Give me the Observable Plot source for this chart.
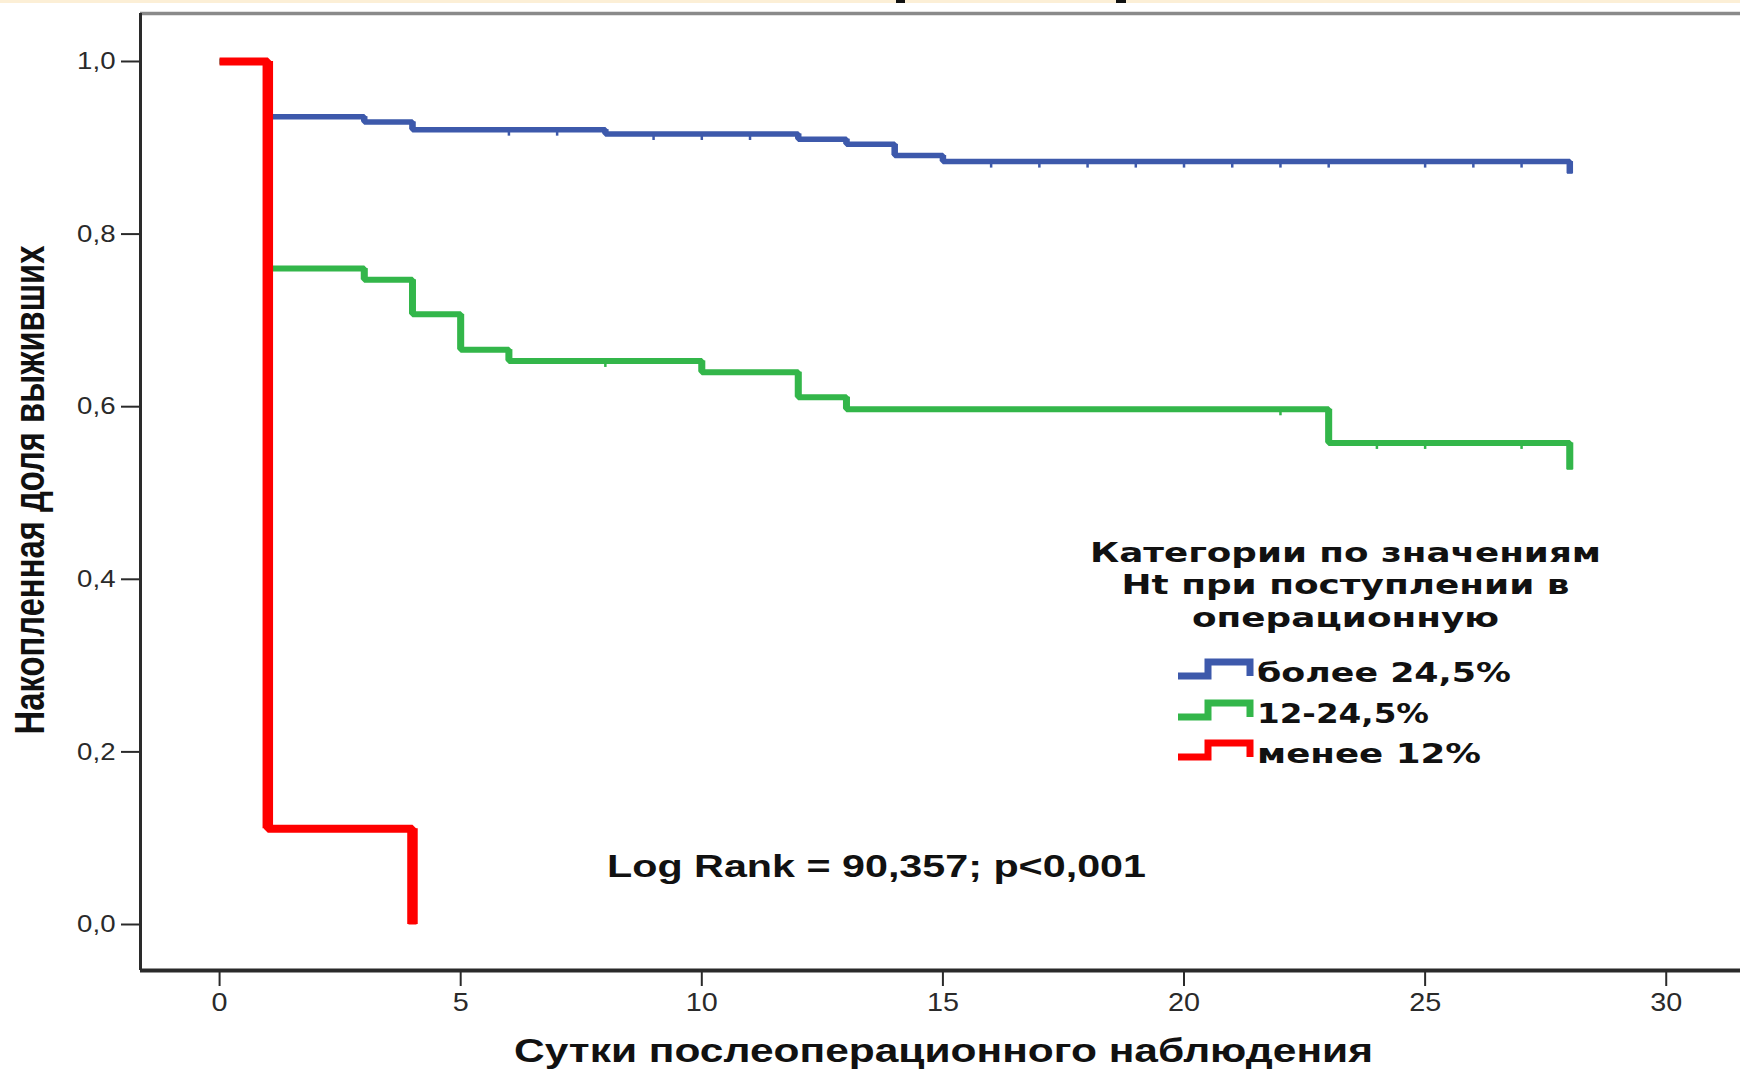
<!DOCTYPE html>
<html>
<head>
<meta charset="utf-8">
<script src="https://cdn.jsdelivr.net/npm/d3@7"></script>
<script src="https://cdn.jsdelivr.net/npm/@observablehq/plot@0.6"></script>
<style>
  html, body { margin: 0; padding: 0; background: #ffffff; }
  #chart { width: 1740px; height: 1070px; overflow: hidden; }
</style>
</head>
<body>
<div id="chart"></div>
<script>
// Kaplan–Meier survival by Ht category on admission to the operating room
const groupNames = ["более 24,5%", "12-24,5%", "менее 12%"];
const groupColors = ["#3d59ab", "#33b64a", "#ff0000"];
const groupWidths = [5.5, 6, 8];
const dropWidths = [6.5, 7, 10.5];

// step points: day of event, cumulative survival after it
const highDays = [0, 1, 3, 4, 8, 12, 13, 14, 15, 28];
const highSurv = [1, 0.936, 0.930, 0.921, 0.916, 0.910, 0.904, 0.891, 0.884, 0.870];
const midDays  = [0, 1, 3, 4, 5, 6, 10, 12, 13, 23, 28];
const midSurv  = [1, 0.760, 0.747, 0.707, 0.666, 0.653, 0.640, 0.611, 0.597, 0.558, 0.527];
const lowDays  = [0, 1, 4];
const lowSurv  = [1, 0.111, 0];

// censored observations
const highCensorDays = [6, 7, 9, 10, 11, 16, 17, 18, 19, 20, 21, 22, 23, 25, 26, 27];
const highCensorSurv = [0.921, 0.921, 0.916, 0.916, 0.916, 0.884, 0.884, 0.884, 0.884, 0.884, 0.884, 0.884, 0.884, 0.884, 0.884, 0.884];
const midCensorDays  = [8, 22, 24, 25, 27];
const midCensorSurv  = [0.653, 0.597, 0.558, 0.558, 0.558];

const xTicks = [0, 5, 10, 15, 20, 25, 30];
const yTicks = [0, 0.2, 0.4, 0.6, 0.8, 1.0];

const xLabel = "Сутки послеоперационного наблюдения";
const yLabel = "Накопленная доля выживших";
const legendTitle = ["Категории по значениям", "Ht при поступлении в", "операционную"];
const testText = "Log Rank = 90,357; p<0,001";

const toRows = (days, surv, group) => days.map((d, i) => ({day: d, surv: surv[i], group}));
// vertical drop of each step: from the previous level to the new one
const toDrops = (days, surv) => days.slice(1).map((d, i) => ({day: d, from: surv[i], to: surv[i + 1]}));

const series = [
  toRows(highDays, highSurv, groupNames[0]),
  toRows(midDays, midSurv, groupNames[1]),
  toRows(lowDays, lowSurv, groupNames[2])
];
const drops = [
  toDrops(highDays, highSurv),
  toDrops(midDays, midSurv),
  toDrops(lowDays, lowSurv)
];
const censored = [
  toRows(highCensorDays, highCensorSurv, groupNames[0]),
  toRows(midCensorDays, midCensorSurv, groupNames[1])
];

const xDomain = [-1.64, 31.54];
const yDomain = [-0.0533, 1.0556];

// short vertical stroke hanging under the curve
const censorTick = {draw(ctx) { ctx.moveTo(0, 0); ctx.lineTo(0, 6); }};

const curveMarks = series.flatMap((rows, i) => [
  Plot.line(rows, {
    x: "day", y: "surv", curve: "step-after",
    stroke: groupColors[i], strokeWidth: groupWidths[i],
    strokeLinejoin: "miter", strokeLinecap: "butt"
  }),
  Plot.ruleX(drops[i], {
    x: "day", y1: "from", y2: "to",
    stroke: groupColors[i], strokeWidth: dropWidths[i], strokeLinecap: "butt"
  })
]);

const chart = Plot.plot({
  width: 1740,
  height: 1070,
  marginLeft: 140,
  marginRight: 0,
  marginTop: 13,
  marginBottom: 100,
  x: {domain: xDomain},
  y: {domain: yDomain},
  style: {fontFamily: "'Liberation Sans', Arial, sans-serif", background: "#ffffff", color: "#222"},
  marks: [
    Plot.ruleY([yDomain[1]], {stroke: "#8a8a8a", strokeWidth: 3.5}),
    Plot.axisX({ticks: xTicks, tickSize: 16, tickPadding: 7, fontSize: 25, tickFormat: d => String(d), label: null, strokeWidth: 2, color: "#2a2a2a"}),
    Plot.axisY({ticks: yTicks, tickSize: 19, tickPadding: 6, fontSize: 24, tickFormat: d => d.toFixed(1).replace(".", ","), label: null, strokeWidth: 2, color: "#2a2a2a"}),
    Plot.ruleX([xDomain[0]], {stroke: "#2a2a2a", strokeWidth: 3}),
    Plot.ruleY([yDomain[0]], {stroke: "#2a2a2a", strokeWidth: 4}),
    ...curveMarks,
    ...censored.map((rows, i) => Plot.dot(rows, {
      x: "day", y: "surv", symbol: censorTick, r: 3,
      fill: "none", stroke: groupColors[i], strokeWidth: 2.5
    }))
  ]
});

document.getElementById("chart").appendChild(chart);

const svg = d3.select(chart);

// widen the tick labels slightly, keeping their anchor
svg.selectAll("g[aria-label$='tick label'] text").each(function() {
  const w = this.getComputedTextLength();
  if (w > 0) {
    this.setAttribute("textLength", (w * 1.15).toFixed(1));
    this.setAttribute("lengthAdjust", "spacingAndGlyphs");
  }
});

// thin band along the upper edge
svg.append("rect").attr("x", 0).attr("y", 0).attr("width", 1740).attr("height", 3).attr("fill", "#fcefd6");
svg.append("rect").attr("x", 896).attr("y", 0).attr("width", 9).attr("height", 3).attr("fill", "#111");
svg.append("rect").attr("x", 1116).attr("y", 0).attr("width", 10).attr("height", 3).attr("fill", "#111");

const boldArial = "'Liberation Sans', Arial, sans-serif";
const wideBold = "'DejaVu Sans', Verdana, sans-serif";

// axis titles
svg.append("text")
  .attr("transform", "translate(44,490) rotate(-90) scale(1,1.3)")
  .attr("text-anchor", "middle")
  .attr("font-family", boldArial).attr("font-weight", "bold").attr("font-size", 33)
  .attr("fill", "#111")
  .attr("textLength", 489).attr("lengthAdjust", "spacingAndGlyphs")
  .text(yLabel);

svg.append("text")
  .attr("x", 943.5).attr("y", 1062)
  .attr("text-anchor", "middle")
  .attr("font-family", boldArial).attr("font-weight", "bold").attr("font-size", 33)
  .attr("fill", "#111")
  .attr("textLength", 859).attr("lengthAdjust", "spacingAndGlyphs")
  .text(xLabel);

// test statistic
svg.append("text")
  .attr("x", 876.5).attr("y", 877)
  .attr("text-anchor", "middle")
  .attr("font-family", boldArial).attr("font-weight", "bold").attr("font-size", 31)
  .attr("fill", "#111")
  .attr("textLength", 539).attr("lengthAdjust", "spacingAndGlyphs")
  .text(testText);

// legend
const titleBaselines = [562, 594, 627];
const titleLengths = [511, 448, 307];
legendTitle.forEach((line, i) => {
  svg.append("text")
    .attr("x", 1345.5).attr("y", titleBaselines[i])
    .attr("text-anchor", "middle")
    .attr("font-family", wideBold).attr("font-weight", "bold").attr("font-size", 26)
    .attr("fill", "#111")
    .attr("textLength", titleLengths[i]).attr("lengthAdjust", "spacingAndGlyphs")
    .text(line);
});

const itemBaselines = [682, 723, 763];
const itemLengths = [254, 172, 224];
groupNames.forEach((name, i) => {
  const b = itemBaselines[i] - 6, t = itemBaselines[i] - 20;
  svg.append("path")
    .attr("d", `M1178,${b}H1208V${t}H1250V${b}`)
    .attr("fill", "none")
    .attr("stroke", groupColors[i]).attr("stroke-width", 7)
    .attr("stroke-linejoin", "miter").attr("stroke-linecap", "butt");
  svg.append("text")
    .attr("x", 1257).attr("y", itemBaselines[i])
    .attr("text-anchor", "start")
    .attr("font-family", wideBold).attr("font-weight", "bold").attr("font-size", 26)
    .attr("fill", "#111")
    .attr("textLength", itemLengths[i]).attr("lengthAdjust", "spacingAndGlyphs")
    .text(name);
});
</script>
</body>
</html>
